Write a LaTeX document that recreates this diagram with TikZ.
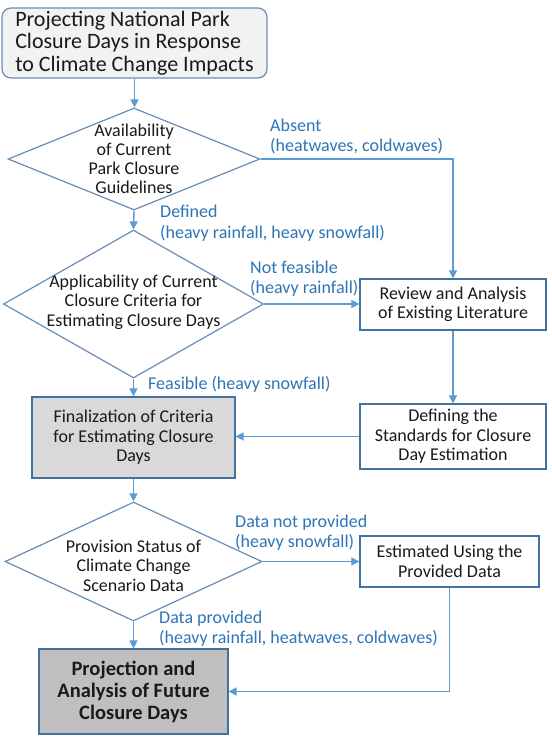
\documentclass[tikz,border=0pt]{standalone}
\usepackage{fontspec}
\setmainfont{Carlito}
\usetikzlibrary{shapes.geometric,arrows.meta}
\definecolor{lineblue}{HTML}{5B9BD5}
\definecolor{labblue}{HTML}{2E75B6}
\definecolor{boxborder}{HTML}{41719C}
\definecolor{dborder}{HTML}{6A8CB8}
\definecolor{topfill}{HTML}{F2F2F2}
\definecolor{finfill}{HTML}{D9D9D9}
\definecolor{botfill}{HTML}{BFBFBF}
\definecolor{txt}{HTML}{1A1A1A}
\begin{document}
\begin{tikzpicture}[x=1pt,y=-1pt,
  every node/.style={font=\fontsize{18}{19.5}\selectfont, text=txt},
  box/.style={draw=boxborder, line width=1.2pt, rectangle, inner sep=0pt, align=center},
  dia/.style={draw=dborder, line width=1.2pt, diamond, inner sep=0pt},
  conn/.style={draw=lineblue, line width=1.4pt, -{Triangle[length=8pt,width=8pt]}},
  lab/.style={text=labblue, align=left, anchor=west, inner sep=0pt, font=\fontsize{18}{20.5}\selectfont}
]
\fill[white] (0,0) rectangle (552,737);
\useasboundingbox (0,0) rectangle (552,737);
% left column
\node[box, rounded corners=9pt, draw=dborder, fill=topfill, minimum width=265, minimum height=70,
      align=left, font=\fontsize{22}{22.5}\selectfont] (top) at (134.5,43)
  {Projecting National Park\\Closure Days in Response\\to Climate Change Impacts};
\node[dia, minimum width=252, minimum height=102,
      label={[align=center, font=\fontsize{18}{19}\selectfont]center:{Availability\\of Current\\Park Closure\\Guidelines}}] (d1) at (134,159) {};
\node[dia, minimum width=260, minimum height=148,
      label={[align=center, yshift=2pt]center:{Applicability of Current\\Closure Criteria for\\Estimating Closure Days}}] (d2) at (133.5,304) {};
\node[box, fill=finfill, minimum width=203, minimum height=81] (fin) at (133.5,437.5)
  {Finalization of Criteria\\for Estimating Closure\\Days};
\node[dia, minimum width=257, minimum height=119,
      label={[align=center, yshift=-4pt]center:{Provision Status of\\Climate Change\\Scenario Data}}] (d3) at (133.5,561.5) {};
\node[box, fill=botfill, minimum width=189, minimum height=85,
      font=\bfseries\fontsize{20.5}{22}\selectfont] (bot) at (133.5,691.5)
  {Projection and\\Analysis of Future\\Closure Days};
% right column
\node[box, fill=white, minimum width=186, minimum height=51] (rev) at (453,304.5)
  {Review and Analysis\\of Existing Literature};
\node[box, fill=white, minimum width=186, minimum height=65] (def) at (453,436.5)
  {Defining the\\Standards for Closure\\Day Estimation};
\node[box, fill=white, minimum width=179, minimum height=51] (est) at (449.5,561.5)
  {Estimated Using the\\Provided Data};
% connectors
\draw[conn] (top.south) -- (top.south |- d1.north);
\draw[conn] (d1.south) -- (d2.north);
\draw[conn] (d2.south) -- (fin.north);
\draw[conn] (fin.south) -- (d3.north);
\draw[conn] (d3.south) -- (bot.north);
\draw[conn] (d1.east) -| (rev.north);
\draw[conn] (d2.east) -- (d2.east -| rev.west);
\draw[conn] (rev.south) -- (def.north);
\draw[conn] (def.west) -- (def.west -| fin.east);
\draw[conn] (d3.east) -- (est.west);
\draw[conn] (est.south) |- (bot.east);
% labels
\node[lab] (l1) at (270,136.5) {Absent\\(heatwaves, coldwaves)};
\node[lab] (l2) at (160,223) {Defined\\(heavy rainfall, heavy snowfall)};
\node[lab] (l3) at (250,278.5) {Not feasible\\(heavy rainfall)};
\node[lab] (l4) at (148,384) {Feasible (heavy snowfall)};
\node[lab] (l5) at (235,532.5) {Data not provided\\(heavy snowfall)};
\node[lab] (l6) at (159,628.5) {Data provided\\(heavy rainfall, heatwaves, coldwaves)};
\end{tikzpicture}
\end{document}
